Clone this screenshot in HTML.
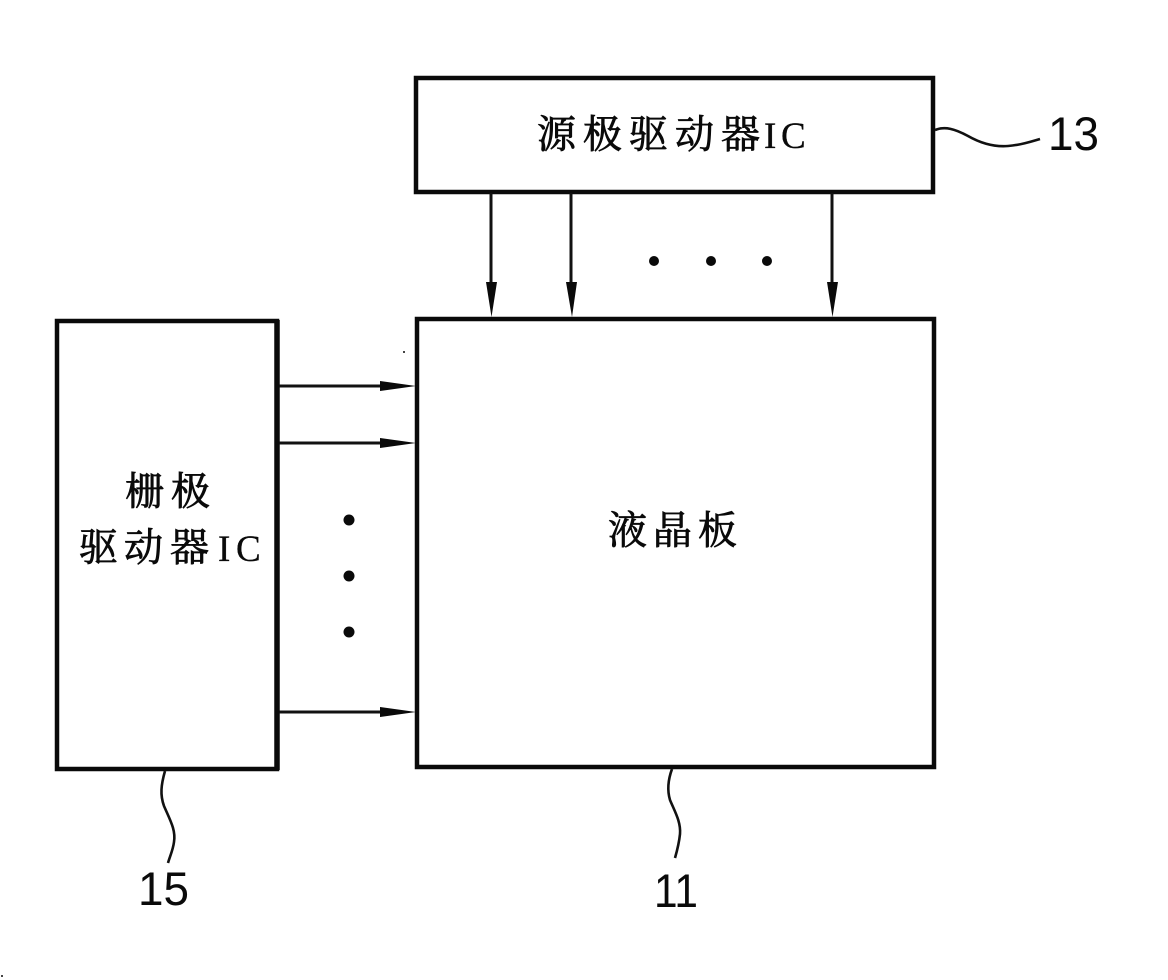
<!DOCTYPE html>
<html>
<head>
<meta charset="utf-8">
<style>
html,body{margin:0;padding:0;background:#fff;}
svg{display:block;}
text{fill:#0a0a0a;}
.cjk{font-family:"Liberation Serif","Noto Serif CJK SC",serif;font-size:39px;stroke:#0a0a0a;stroke-width:.8px;}
.lat{font-size:37px;stroke-width:.3px;}
.num{font-family:"Liberation Sans",sans-serif;font-size:47px;}
</style>
</head>
<body>
<svg width="1168" height="980" viewBox="0 0 1168 980" xmlns="http://www.w3.org/2000/svg">
<rect width="1168" height="980" fill="#fff"/>
<g fill="none" stroke="#0a0a0a" stroke-width="4.5">
<rect x="416" y="78" width="517" height="114"/>
<rect x="417" y="319" width="517" height="448"/>
<rect x="57" y="321" width="220" height="448"/>
</g>
<path d="M277 320V770" stroke="#0a0a0a" stroke-width="5.5" fill="none"/>
<g fill="none" stroke="#111" stroke-width="3">
<path d="M491 193V290M571 193V290M832 193V290"/>
<path d="M279 386H390M279 443H390M279 712H390"/>
</g>
<g fill="none" stroke="#111" stroke-width="2.6">
<path d="M935 130C945 126 955 129 968 136C982 144 995 147 1008 146C1020 145 1030 142 1040 139"/>
<path d="M165 771C161 785 160 795 164 806C170 820 176 830 174 842C173 850 170 856 168 863"/>
<path d="M672 769C668 780 667 790 670 800C675 812 681 822 680 834C679 844 677 851 675 858"/>
</g>
<g fill="#0a0a0a">
<path d="M486 282H497L491.500 317Z"/>
<path d="M566 282H577L572 317Z"/>
<path d="M827 282H838L832.500 317Z"/>
<path d="M380 381L416 386L380 391Z"/>
<path d="M380 438L416 443L380 448Z"/>
<path d="M380 707L416 712L380 717Z"/>
<circle cx="654" cy="261" r="5"/>
<circle cx="711" cy="261" r="5"/>
<circle cx="767" cy="261" r="5"/>
<circle cx="349" cy="520" r="5.500"/>
<circle cx="349" cy="576" r="5.500"/>
<circle cx="349" cy="632" r="5.500"/>
<circle cx="404" cy="352" r="1"/>
<circle cx="2" cy="976" r="1"/>
</g>
<text class="cjk" x="537 583 629 675 721" y="148">源极驱动器<tspan class="lat" x="764 781">IC</tspan></text>
<text class="cjk" x="125 171" y="505">栅极</text>
<text class="cjk" x="79 124 170" y="561">驱动器<tspan class="lat" x="218 236">IC</tspan></text>
<text class="cjk" x="608 653 698" y="544">液晶板</text>
<text class="num" x="1048" y="150" textLength="51" lengthAdjust="spacingAndGlyphs">13</text>
<text class="num" x="138" y="905" textLength="51" lengthAdjust="spacingAndGlyphs">15</text>
<text class="num" x="654" y="907" textLength="44" lengthAdjust="spacingAndGlyphs">11</text>
</svg>
</body>
</html>
